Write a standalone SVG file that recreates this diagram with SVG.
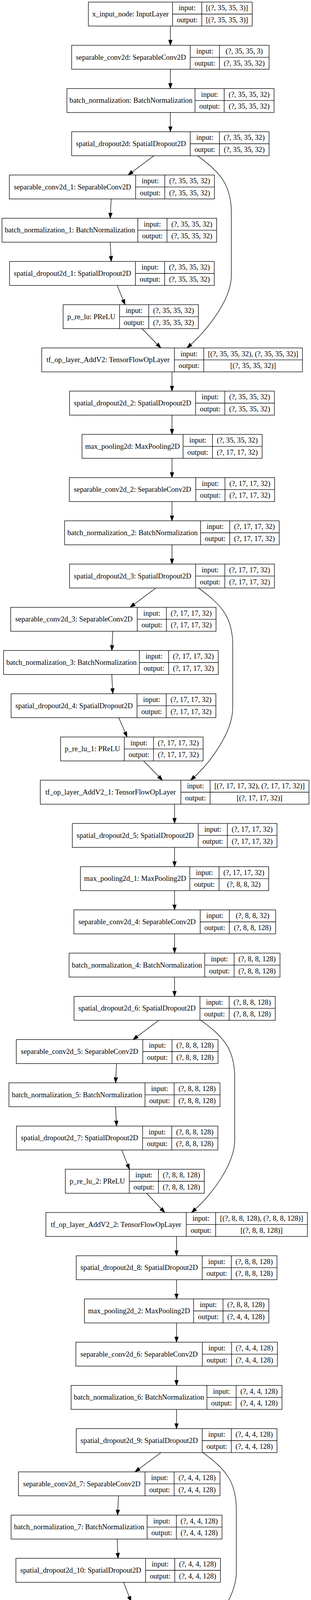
<svg xmlns="http://www.w3.org/2000/svg" width="795" height="4943" viewBox="0 0 795 4943">
<style>
.b{fill:#fff;stroke:#000;stroke-width:1.33}
.s{fill:none;stroke:#000;stroke-width:1.33}
.t{font-family:"Liberation Serif","Times New Roman",serif;font-size:18.67px;text-anchor:middle;fill:#000}
.e{fill:none;stroke:#000;stroke-width:1.3;marker-end:url(#ah)}
</style>
<defs>
<marker id="ah" markerUnits="userSpaceOnUse" markerWidth="15" markerHeight="11" viewBox="0 0 15 11" refX="0.5" refY="5.5" orient="auto">
<path d="M0.5,0.8 L13.8,5.5 L0.5,10.2 Z" fill="#000" stroke="#000" stroke-width="1"/>
</marker>
</defs>
<rect width="795" height="4943" fill="#fff"/>

<g id="n0" transform="translate(0,5.33)"><rect class="b" x="225.9" y="0" width="418.8" height="61.33"/><path class="s" d="M441.1,0V61.33M515.7,0V61.33M441.1,30.67H644.7"/><text class="t" x="333.5" y="36.5">x_input_node: InputLayer</text><text class="t" x="478.4" y="21.1">input:</text><text class="t" x="478.4" y="51.8">output:</text><text class="t" x="580.2" y="21.1">[(?, 35, 35, 3)]</text><text class="t" x="580.2" y="51.8">[(?, 35, 35, 3)]</text></g>

<g id="n1" transform="translate(0,116)"><rect class="b" x="183.2" y="0" width="504.6" height="61.33"/><path class="s" d="M486.3,0V61.33M560.9,0V61.33M486.3,30.67H687.8"/><text class="t" x="334.75" y="36.5">separable_conv2d: SeparableConv2D</text><text class="t" x="523.6" y="21.1">input:</text><text class="t" x="523.6" y="51.8">output:</text><text class="t" x="624.35" y="21.1">(?, 35, 35, 3)</text><text class="t" x="624.35" y="51.8">(?, 35, 35, 32)</text></g>

<g id="n2" transform="translate(0,226.67)"><rect class="b" x="171.1" y="0" width="529.4" height="61.33"/><path class="s" d="M498.5,0V61.33M573.1,0V61.33M498.5,30.67H700.5"/><text class="t" x="334.8" y="36.5">batch_normalization: BatchNormalization</text><text class="t" x="535.8" y="21.1">input:</text><text class="t" x="535.8" y="51.8">output:</text><text class="t" x="636.8" y="21.1">(?, 35, 35, 32)</text><text class="t" x="636.8" y="51.8">(?, 35, 35, 32)</text></g>

<g id="n3" transform="translate(0,337.33)"><rect class="b" x="183.2" y="0" width="504.6" height="61.33"/><path class="s" d="M486.3,0V61.33M560.9,0V61.33M486.3,30.67H687.8"/><text class="t" x="334.75" y="36.5">spatial_dropout2d: SpatialDropout2D</text><text class="t" x="523.6" y="21.1">input:</text><text class="t" x="523.6" y="51.8">output:</text><text class="t" x="624.35" y="21.1">(?, 35, 35, 32)</text><text class="t" x="624.35" y="51.8">(?, 35, 35, 32)</text></g>

<g id="n4" transform="translate(0,448)"><rect class="b" x="23.9" y="0" width="524.3" height="61.33"/><path class="s" d="M346.7,0V61.33M421.3,0V61.33M346.7,30.67H548.2"/><text class="t" x="185.3" y="36.5">separable_conv2d_1: SeparableConv2D</text><text class="t" x="384" y="21.1">input:</text><text class="t" x="384" y="51.8">output:</text><text class="t" x="484.75" y="21.1">(?, 35, 35, 32)</text><text class="t" x="484.75" y="51.8">(?, 35, 35, 32)</text></g>

<g id="n5" transform="translate(0,558.67)"><rect class="b" x="5.1" y="0" width="548.7" height="61.33"/><path class="s" d="M352.3,0V61.33M426.9,0V61.33M352.3,30.67H553.8"/><text class="t" x="178.7" y="36.5">batch_normalization_1: BatchNormalization</text><text class="t" x="389.6" y="21.1">input:</text><text class="t" x="389.6" y="51.8">output:</text><text class="t" x="490.35" y="21.1">(?, 35, 35, 32)</text><text class="t" x="490.35" y="51.8">(?, 35, 35, 32)</text></g>

<g id="n6" transform="translate(0,669.33)"><rect class="b" x="24.4" y="0" width="523.3" height="61.33"/><path class="s" d="M346.2,0V61.33M420.8,0V61.33M346.2,30.67H547.7"/><text class="t" x="185.3" y="36.5">spatial_dropout2d_1: SpatialDropout2D</text><text class="t" x="383.5" y="21.1">input:</text><text class="t" x="383.5" y="51.8">output:</text><text class="t" x="484.25" y="21.1">(?, 35, 35, 32)</text><text class="t" x="484.25" y="51.8">(?, 35, 35, 32)</text></g>

<g id="n7" transform="translate(0,780)"><rect class="b" x="161.4" y="0" width="345.7" height="61.33"/><path class="s" d="M305.6,0V61.33M380.2,0V61.33M305.6,30.67H507.1"/><text class="t" x="233.5" y="36.5">p_re_lu: PReLU</text><text class="t" x="342.9" y="21.1">input:</text><text class="t" x="342.9" y="51.8">output:</text><text class="t" x="443.65" y="21.1">(?, 35, 35, 32)</text><text class="t" x="443.65" y="51.8">(?, 35, 35, 32)</text></g>

<g id="n8" transform="translate(0,890.67)"><rect class="b" x="106.6" y="0" width="666.5" height="61.33"/><path class="s" d="M445.7,0V61.33M520.8,0V61.33M445.7,30.67H773.1"/><text class="t" x="276.15" y="36.5">tf_op_layer_AddV2: TensorFlowOpLayer</text><text class="t" x="483.25" y="21.1">input:</text><text class="t" x="483.25" y="51.8">output:</text><text class="t" x="646.95" y="21.1">[(?, 35, 35, 32), (?, 35, 35, 32)]</text><text class="t" x="646.95" y="51.8">[(?, 35, 35, 32)]</text></g>

<g id="n9" transform="translate(0,1001.33)"><rect class="b" x="177.7" y="0" width="523.8" height="61.33"/><path class="s" d="M500,0V61.33M574.6,0V61.33M500,30.67H701.5"/><text class="t" x="338.85" y="36.5">spatial_dropout2d_2: SpatialDropout2D</text><text class="t" x="537.3" y="21.1">input:</text><text class="t" x="537.3" y="51.8">output:</text><text class="t" x="638.05" y="21.1">(?, 35, 35, 32)</text><text class="t" x="638.05" y="51.8">(?, 35, 35, 32)</text></g>

<g id="n10" transform="translate(0,1112)"><rect class="b" x="209.6" y="0" width="460.5" height="61.33"/><path class="s" d="M468,0V61.33M543.1,0V61.33M468,30.67H670.1"/><text class="t" x="338.8" y="36.5">max_pooling2d: MaxPooling2D</text><text class="t" x="505.55" y="21.1">input:</text><text class="t" x="505.55" y="51.8">output:</text><text class="t" x="606.6" y="21.1">(?, 35, 35, 32)</text><text class="t" x="606.6" y="51.8">(?, 17, 17, 32)</text></g>

<g id="n11" transform="translate(0,1222.67)"><rect class="b" x="177.2" y="0" width="524.8" height="61.33"/><path class="s" d="M500.5,0V61.33M575.1,0V61.33M500.5,30.67H702"/><text class="t" x="338.85" y="36.5">separable_conv2d_2: SeparableConv2D</text><text class="t" x="537.8" y="21.1">input:</text><text class="t" x="537.8" y="51.8">output:</text><text class="t" x="638.55" y="21.1">(?, 17, 17, 32)</text><text class="t" x="638.55" y="51.8">(?, 17, 17, 32)</text></g>

<g id="n12" transform="translate(0,1333.33)"><rect class="b" x="165" y="0" width="548.7" height="61.33"/><path class="s" d="M512.7,0V61.33M587.3,0V61.33M512.7,30.67H713.7"/><text class="t" x="338.85" y="36.5">batch_normalization_2: BatchNormalization</text><text class="t" x="550" y="21.1">input:</text><text class="t" x="550" y="51.8">output:</text><text class="t" x="650.5" y="21.1">(?, 17, 17, 32)</text><text class="t" x="650.5" y="51.8">(?, 17, 17, 32)</text></g>

<g id="n13" transform="translate(0,1444)"><rect class="b" x="177.7" y="0" width="523.8" height="61.33"/><path class="s" d="M500,0V61.33M574.6,0V61.33M500,30.67H701.5"/><text class="t" x="338.85" y="36.5">spatial_dropout2d_3: SpatialDropout2D</text><text class="t" x="537.3" y="21.1">input:</text><text class="t" x="537.3" y="51.8">output:</text><text class="t" x="638.05" y="21.1">(?, 17, 17, 32)</text><text class="t" x="638.05" y="51.8">(?, 17, 17, 32)</text></g>

<g id="n14" transform="translate(0,1554.67)"><rect class="b" x="27.4" y="0" width="524.9" height="61.33"/><path class="s" d="M350.8,0V61.33M425.4,0V61.33M350.8,30.67H552.3"/><text class="t" x="189.1" y="36.5">separable_conv2d_3: SeparableConv2D</text><text class="t" x="388.1" y="21.1">input:</text><text class="t" x="388.1" y="51.8">output:</text><text class="t" x="488.85" y="21.1">(?, 17, 17, 32)</text><text class="t" x="488.85" y="51.8">(?, 17, 17, 32)</text></g>

<g id="n15" transform="translate(0,1665.33)"><rect class="b" x="9.1" y="0" width="548.8" height="61.33"/><path class="s" d="M356.3,0V61.33M431,0V61.33M356.3,30.67H557.9"/><text class="t" x="182.7" y="36.5">batch_normalization_3: BatchNormalization</text><text class="t" x="393.65" y="21.1">input:</text><text class="t" x="393.65" y="51.8">output:</text><text class="t" x="494.45" y="21.1">(?, 17, 17, 32)</text><text class="t" x="494.45" y="51.8">(?, 17, 17, 32)</text></g>

<g id="n16" transform="translate(0,1776)"><rect class="b" x="28.4" y="0" width="523.4" height="61.33"/><path class="s" d="M350.3,0V61.33M424.9,0V61.33M350.3,30.67H551.8"/><text class="t" x="189.35" y="36.5">spatial_dropout2d_4: SpatialDropout2D</text><text class="t" x="387.6" y="21.1">input:</text><text class="t" x="387.6" y="51.8">output:</text><text class="t" x="488.35" y="21.1">(?, 17, 17, 32)</text><text class="t" x="488.35" y="51.8">(?, 17, 17, 32)</text></g>

<g id="n17" transform="translate(0,1886.67)"><rect class="b" x="154.8" y="0" width="364.5" height="61.33"/><path class="s" d="M317.8,0V61.33M392.4,0V61.33M317.8,30.67H519.3"/><text class="t" x="236.3" y="36.5">p_re_lu_1: PReLU</text><text class="t" x="355.1" y="21.1">input:</text><text class="t" x="355.1" y="51.8">output:</text><text class="t" x="455.85" y="21.1">(?, 17, 17, 32)</text><text class="t" x="455.85" y="51.8">(?, 17, 17, 32)</text></g>

<g id="n18" transform="translate(0,1997.33)"><rect class="b" x="103" y="0" width="686.8" height="61.33"/><path class="s" d="M462.4,0V61.33M537.1,0V61.33M462.4,30.67H789.8"/><text class="t" x="282.7" y="36.5">tf_op_layer_AddV2_1: TensorFlowOpLayer</text><text class="t" x="499.75" y="21.1">input:</text><text class="t" x="499.75" y="51.8">output:</text><text class="t" x="663.45" y="21.1">[(?, 17, 17, 32), (?, 17, 17, 32)]</text><text class="t" x="663.45" y="51.8">[(?, 17, 17, 32)]</text></g>

<g id="n19" transform="translate(0,2108)"><rect class="b" x="184.8" y="0" width="523.3" height="61.33"/><path class="s" d="M506.6,0V61.33M581.2,0V61.33M506.6,30.67H708.1"/><text class="t" x="345.7" y="36.5">spatial_dropout2d_5: SpatialDropout2D</text><text class="t" x="543.9" y="21.1">input:</text><text class="t" x="543.9" y="51.8">output:</text><text class="t" x="644.65" y="21.1">(?, 17, 17, 32)</text><text class="t" x="644.65" y="51.8">(?, 17, 17, 32)</text></g>

<g id="n20" transform="translate(0,2218.67)"><rect class="b" x="205.6" y="0" width="481.2" height="61.33"/><path class="s" d="M485.3,0V61.33M559.9,0V61.33M485.3,30.67H686.8"/><text class="t" x="345.45" y="36.5">max_pooling2d_1: MaxPooling2D</text><text class="t" x="522.6" y="21.1">input:</text><text class="t" x="522.6" y="51.8">output:</text><text class="t" x="623.35" y="21.1">(?, 17, 17, 32)</text><text class="t" x="623.35" y="51.8">(?, 8, 8, 32)</text></g>

<g id="n21" transform="translate(0,2329.33)"><rect class="b" x="188.8" y="0" width="515.8" height="61.33"/><path class="s" d="M511.7,0V61.33M586.3,0V61.33M511.7,30.67H704.6"/><text class="t" x="350.25" y="36.5">separable_conv2d_4: SeparableConv2D</text><text class="t" x="549" y="21.1">input:</text><text class="t" x="549" y="51.8">output:</text><text class="t" x="645.45" y="21.1">(?, 8, 8, 32)</text><text class="t" x="645.45" y="51.8">(?, 8, 8, 128)</text></g>

<g id="n22" transform="translate(0,2440)"><rect class="b" x="176.6" y="0" width="539.1" height="61.33"/><path class="s" d="M523.4,0V61.33M598.5,0V61.33M523.4,30.67H715.7"/><text class="t" x="350" y="36.5">batch_normalization_4: BatchNormalization</text><text class="t" x="560.95" y="21.1">input:</text><text class="t" x="560.95" y="51.8">output:</text><text class="t" x="657.1" y="21.1">(?, 8, 8, 128)</text><text class="t" x="657.1" y="51.8">(?, 8, 8, 128)</text></g>

<g id="n23" transform="translate(0,2550.67)"><rect class="b" x="189.3" y="0" width="514.3" height="61.33"/><path class="s" d="M511.2,0V61.33M585.8,0V61.33M511.2,30.67H703.6"/><text class="t" x="350.25" y="36.5">spatial_dropout2d_6: SpatialDropout2D</text><text class="t" x="548.5" y="21.1">input:</text><text class="t" x="548.5" y="51.8">output:</text><text class="t" x="644.7" y="21.1">(?, 8, 8, 128)</text><text class="t" x="644.7" y="51.8">(?, 8, 8, 128)</text></g>

<g id="n24" transform="translate(0,2661.33)"><rect class="b" x="41.6" y="0" width="515.8" height="61.33"/><path class="s" d="M365,0V61.33M439.6,0V61.33M365,30.67H557.4"/><text class="t" x="203.3" y="36.5">separable_conv2d_5: SeparableConv2D</text><text class="t" x="402.3" y="21.1">input:</text><text class="t" x="402.3" y="51.8">output:</text><text class="t" x="498.5" y="21.1">(?, 8, 8, 128)</text><text class="t" x="498.5" y="51.8">(?, 8, 8, 128)</text></g>

<g id="n25" transform="translate(0,2772)"><rect class="b" x="22.8" y="0" width="539.6" height="61.33"/><path class="s" d="M370.6,0V61.33M445.2,0V61.33M370.6,30.67H562.4"/><text class="t" x="196.7" y="36.5">batch_normalization_5: BatchNormalization</text><text class="t" x="407.9" y="21.1">input:</text><text class="t" x="407.9" y="51.8">output:</text><text class="t" x="503.8" y="21.1">(?, 8, 8, 128)</text><text class="t" x="503.8" y="51.8">(?, 8, 8, 128)</text></g>

<g id="n26" transform="translate(0,2882.67)"><rect class="b" x="42.1" y="0" width="514.8" height="61.33"/><path class="s" d="M364.5,0V61.33M439.1,0V61.33M364.5,30.67H556.9"/><text class="t" x="203.3" y="36.5">spatial_dropout2d_7: SpatialDropout2D</text><text class="t" x="401.8" y="21.1">input:</text><text class="t" x="401.8" y="51.8">output:</text><text class="t" x="498" y="21.1">(?, 8, 8, 128)</text><text class="t" x="498" y="51.8">(?, 8, 8, 128)</text></g>

<g id="n27" transform="translate(0,2993.33)"><rect class="b" x="167" y="0" width="355.3" height="61.33"/><path class="s" d="M330.5,0V61.33M405.1,0V61.33M330.5,30.67H522.3"/><text class="t" x="248.75" y="36.5">p_re_lu_2: PReLU</text><text class="t" x="367.8" y="21.1">input:</text><text class="t" x="367.8" y="51.8">output:</text><text class="t" x="463.7" y="21.1">(?, 8, 8, 128)</text><text class="t" x="463.7" y="51.8">(?, 8, 8, 128)</text></g>

<g id="n28" transform="translate(0,3104)"><rect class="b" x="117.3" y="0" width="668.5" height="61.33"/><path class="s" d="M476.1,0V61.33M551.3,0V61.33M476.1,30.67H785.8"/><text class="t" x="296.7" y="36.5">tf_op_layer_AddV2_2: TensorFlowOpLayer</text><text class="t" x="513.7" y="21.1">input:</text><text class="t" x="513.7" y="51.8">output:</text><text class="t" x="668.55" y="21.1">[(?, 8, 8, 128), (?, 8, 8, 128)]</text><text class="t" x="668.55" y="51.8">[(?, 8, 8, 128)]</text></g>

<g id="n29" transform="translate(0,3214.67)"><rect class="b" x="194.9" y="0" width="513.2" height="61.33"/><path class="s" d="M516.8,0V61.33M591.4,0V61.33M516.8,30.67H708.1"/><text class="t" x="355.85" y="36.5">spatial_dropout2d_8: SpatialDropout2D</text><text class="t" x="554.1" y="21.1">input:</text><text class="t" x="554.1" y="51.8">output:</text><text class="t" x="649.75" y="21.1">(?, 8, 8, 128)</text><text class="t" x="649.75" y="51.8">(?, 8, 8, 128)</text></g>

<g id="n30" transform="translate(0,3325.33)"><rect class="b" x="215.7" y="0" width="471.6" height="61.33"/><path class="s" d="M494.9,0V61.33M570.1,0V61.33M494.9,30.67H687.3"/><text class="t" x="355.3" y="36.5">max_pooling2d_2: MaxPooling2D</text><text class="t" x="532.5" y="21.1">input:</text><text class="t" x="532.5" y="51.8">output:</text><text class="t" x="628.7" y="21.1">(?, 8, 8, 128)</text><text class="t" x="628.7" y="51.8">(?, 4, 4, 128)</text></g>

<g id="n31" transform="translate(0,3436)"><rect class="b" x="193.9" y="0" width="515.2" height="61.33"/><path class="s" d="M517.3,0V61.33M591.9,0V61.33M517.3,30.67H709.1"/><text class="t" x="355.6" y="36.5">separable_conv2d_6: SeparableConv2D</text><text class="t" x="554.6" y="21.1">input:</text><text class="t" x="554.6" y="51.8">output:</text><text class="t" x="650.5" y="21.1">(?, 4, 4, 128)</text><text class="t" x="650.5" y="51.8">(?, 4, 4, 128)</text></g>

<g id="n32" transform="translate(0,3546.67)"><rect class="b" x="181.7" y="0" width="539.1" height="61.33"/><path class="s" d="M528.9,0V61.33M603.6,0V61.33M528.9,30.67H720.8"/><text class="t" x="355.3" y="36.5">batch_normalization_6: BatchNormalization</text><text class="t" x="566.25" y="21.1">input:</text><text class="t" x="566.25" y="51.8">output:</text><text class="t" x="662.2" y="21.1">(?, 4, 4, 128)</text><text class="t" x="662.2" y="51.8">(?, 4, 4, 128)</text></g>

<g id="n33" transform="translate(0,3657.33)"><rect class="b" x="194.9" y="0" width="513.2" height="61.33"/><path class="s" d="M516.8,0V61.33M591.4,0V61.33M516.8,30.67H708.1"/><text class="t" x="355.85" y="36.5">spatial_dropout2d_9: SpatialDropout2D</text><text class="t" x="554.1" y="21.1">input:</text><text class="t" x="554.1" y="51.8">output:</text><text class="t" x="649.75" y="21.1">(?, 4, 4, 128)</text><text class="t" x="649.75" y="51.8">(?, 4, 4, 128)</text></g>

<g id="n34" transform="translate(0,3768)"><rect class="b" x="47.2" y="0" width="515.2" height="61.33"/><path class="s" d="M370.6,0V61.33M445.2,0V61.33M370.6,30.67H562.4"/><text class="t" x="208.9" y="36.5">separable_conv2d_7: SeparableConv2D</text><text class="t" x="407.9" y="21.1">input:</text><text class="t" x="407.9" y="51.8">output:</text><text class="t" x="503.8" y="21.1">(?, 4, 4, 128)</text><text class="t" x="503.8" y="51.8">(?, 4, 4, 128)</text></g>

<g id="n35" transform="translate(0,3878.67)"><rect class="b" x="28.4" y="0" width="539.1" height="61.33"/><path class="s" d="M376.1,0V61.33M450.8,0V61.33M376.1,30.67H567.5"/><text class="t" x="202.25" y="36.5">batch_normalization_7: BatchNormalization</text><text class="t" x="413.45" y="21.1">input:</text><text class="t" x="413.45" y="51.8">output:</text><text class="t" x="509.15" y="21.1">(?, 4, 4, 128)</text><text class="t" x="509.15" y="51.8">(?, 4, 4, 128)</text></g>

<g id="n36" transform="translate(0,3989.33)"><rect class="b" x="40.6" y="0" width="522.9" height="61.33"/><path class="s" d="M372.1,0V61.33M446.7,0V61.33M372.1,30.67H563.5"/><text class="t" x="206.35" y="36.5">spatial_dropout2d_10: SpatialDropout2D</text><text class="t" x="409.4" y="21.1">input:</text><text class="t" x="409.4" y="51.8">output:</text><text class="t" x="505.1" y="21.1">(?, 4, 4, 128)</text><text class="t" x="505.1" y="51.8">(?, 4, 4, 128)</text></g>

<g id="n37" transform="translate(0,4100)"><rect class="b" x="171.6" y="0" width="354.3" height="61.33"/><path class="s" d="M334.5,0V61.33M409.1,0V61.33M334.5,30.67H525.9"/><text class="t" x="253.05" y="36.5">p_re_lu_3: PReLU</text><text class="t" x="371.8" y="21.1">input:</text><text class="t" x="371.8" y="51.8">output:</text><text class="t" x="467.5" y="21.1">(?, 4, 4, 128)</text><text class="t" x="467.5" y="51.8">(?, 4, 4, 128)</text></g>

<g id="n38" transform="translate(0,4210.67)"><rect class="b" x="121.3" y="0" width="669.1" height="61.33"/><path class="s" d="M480.7,0V61.33M555.3,0V61.33M480.7,30.67H790.4"/><text class="t" x="301" y="36.5">tf_op_layer_AddV2_3: TensorFlowOpLayer</text><text class="t" x="518" y="21.1">input:</text><text class="t" x="518" y="51.8">output:</text><text class="t" x="672.85" y="21.1">[(?, 4, 4, 128), (?, 4, 4, 128)]</text><text class="t" x="672.85" y="51.8">[(?, 4, 4, 128)]</text></g>

<g id="n39" transform="translate(0,4321.33)"><rect class="b" x="194.4" y="0" width="522.4" height="61.33"/><path class="s" d="M524.9,0V61.33M599.5,0V61.33M524.9,30.67H716.8"/><text class="t" x="359.65" y="36.5">spatial_dropout2d_11: SpatialDropout2D</text><text class="t" x="562.2" y="21.1">input:</text><text class="t" x="562.2" y="51.8">output:</text><text class="t" x="658.15" y="21.1">(?, 4, 4, 128)</text><text class="t" x="658.15" y="51.8">(?, 4, 4, 128)</text></g>

<g id="n40" transform="translate(0,4432)"><rect class="b" x="198" y="0" width="515.2" height="61.33"/><path class="s" d="M521.3,0V61.33M596,0V61.33M521.3,30.67H713.2"/><text class="t" x="359.65" y="36.5">separable_conv2d_8: SeparableConv2D</text><text class="t" x="558.65" y="21.1">input:</text><text class="t" x="558.65" y="51.8">output:</text><text class="t" x="654.6" y="21.1">(?, 4, 4, 128)</text><text class="t" x="654.6" y="51.8">(?, 4, 4, 2)</text></g>

<g id="n41" transform="translate(0,4542.67)"><rect class="b" x="195.4" y="0" width="520.3" height="61.33"/><path class="s" d="M542.6,0V61.33M617.3,0V61.33M542.6,30.67H715.7"/><text class="t" x="369" y="36.5">batch_normalization_8: BatchNormalization</text><text class="t" x="579.95" y="21.1">input:</text><text class="t" x="579.95" y="51.8">output:</text><text class="t" x="666.5" y="21.1">(?, 4, 4, 2)</text><text class="t" x="666.5" y="51.8">(?, 4, 4, 2)</text></g>

<g id="n42" transform="translate(0,4653.33)"><rect class="b" x="203" y="0" width="504.6" height="61.33"/><path class="s" d="M534.5,0V61.33M609.1,0V61.33M534.5,30.67H707.6"/><text class="t" x="368.75" y="36.5">spatial_dropout2d_12: SpatialDropout2D</text><text class="t" x="571.8" y="21.1">input:</text><text class="t" x="571.8" y="51.8">output:</text><text class="t" x="658.35" y="21.1">(?, 4, 4, 2)</text><text class="t" x="658.35" y="51.8">(?, 4, 4, 2)</text></g>

<g id="n43" transform="translate(0,4764)"><rect class="b" x="160.4" y="0" width="590.9" height="61.33"/><path class="s" d="M577.7,0V61.33M652.8,0V61.33M577.7,30.67H751.3"/><text class="t" x="369.05" y="36.5">global_average_pooling2d: GlobalAveragePooling2D</text><text class="t" x="615.25" y="21.1">input:</text><text class="t" x="615.25" y="51.8">output:</text><text class="t" x="702.05" y="21.1">(?, 4, 4, 2)</text><text class="t" x="702.05" y="51.8">(?, 2)</text></g>

<g id="n44" transform="translate(0,4874.67)"><rect class="b" x="309.6" y="0" width="291.4" height="61.33"/><path class="s" d="M465,0V61.33M539.6,0V61.33M465,30.67H601"/><text class="t" x="387.3" y="36.5">softmax: Softmax</text><text class="t" x="502.3" y="21.1">input:</text><text class="t" x="502.3" y="51.8">output:</text><text class="t" x="570.3" y="21.1">(?, 2)</text><text class="t" x="570.3" y="51.8">(?, 2)</text></g>

<g id="edges">
<path class="e" d="M435.5,66.7V102.7"/>
<path class="e" d="M435.5,177.3V213.4"/>
<path class="e" d="M435.5,288V324"/>
<path class="e" d="M393.4,398.7L338.05,440.04"/>
<path class="e" d="M284.3,509.3L282.4,545.4"/>
<path class="e" d="M281.7,620L283.6,656"/>
<path class="e" d="M299.5,730.7L314.7,767.7"/>
<path class="e" d="M362.9,841.3L401.9,881.2"/>
<path class="e" d="M505.1,398.7C560,440 591.4,470 591.4,545V705C591.4,770 525,848.3 488,881.8"/>
<path class="e" d="M439.6,952V988"/>
<path class="e" d="M439.6,1062.7V1098.7"/>
<path class="e" d="M439.6,1173.3V1209.4"/>
<path class="e" d="M439.6,1284V1320"/>
<path class="e" d="M439.6,1394.7V1430.7"/>
<path class="e" d="M398.5,1505.3L343.15,1546.7"/>
<path class="e" d="M288.3,1616L286.5,1652"/>
<path class="e" d="M285.8,1726.7L287.6,1762.7"/>
<path class="e" d="M303.6,1837.3L319.6,1874.5"/>
<path class="e" d="M367,1948L405.9,1987.8"/>
<path class="e" d="M507.6,1505.3C562.6,1546.3 594.9,1576.3 594.9,1651.3V1811.7C594.9,1876.7 534.1,1954.9 497.1,1988.4"/>
<path class="e" d="M446.2,2058.7V2094.7"/>
<path class="e" d="M446.2,2169.3V2205.4"/>
<path class="e" d="M446.2,2280V2316"/>
<path class="e" d="M446.2,2390.7V2426.7"/>
<path class="e" d="M446.2,2501.3V2537.4"/>
<path class="e" d="M406.1,2612L350.75,2653.3"/>
<path class="e" d="M298,2722.7L296.1,2758.7"/>
<path class="e" d="M295.4,2833.3L297.3,2869.4"/>
<path class="e" d="M311.2,2944L326,2981"/>
<path class="e" d="M374.6,3054.7L412.1,3094.3"/>
<path class="e" d="M513.7,2612C568.7,2653 600,2683 600,2758.3V2918.3C600,2983.3 536.6,3061.6 499.6,3095.1"/>
<path class="e" d="M451.3,3165.3V3201.4"/>
<path class="e" d="M451.3,3276V3312"/>
<path class="e" d="M451.3,3386.7V3422.7"/>
<path class="e" d="M451.3,3497.3V3533.4"/>
<path class="e" d="M451.3,3608V3644"/>
<path class="e" d="M411.2,3718.7L355.85,3760"/>
<path class="e" d="M303,3829.3L301.2,3865.4"/>
<path class="e" d="M299.5,3940L301,3976"/>
<path class="e" d="M315.7,4050.7L330.2,4087.6"/>
<path class="e" d="M378.2,4161.3L416.2,4201.1"/>
<path class="e" d="M518.8,3718.7C573.8,3759.7 604.1,3789.7 604.1,3865V4025C604.1,4090 541.7,4168.3 504.7,4201.8"/>
<path class="e" d="M455.8,4272V4308"/>
<path class="e" d="M455.8,4382.7V4418.7"/>
<path class="e" d="M455.8,4493.3V4529.4"/>
<path class="e" d="M455.8,4604V4640"/>
<path class="e" d="M455.8,4714.7V4750.7"/>
<path class="e" d="M455.8,4825.3V4861.4"/>
</g>
</svg>
